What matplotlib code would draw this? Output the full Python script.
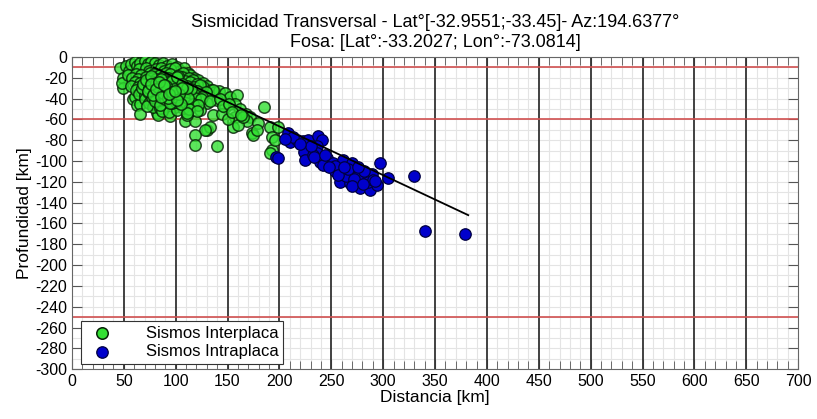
import numpy as np
import matplotlib.pyplot as plt
from matplotlib.ticker import MultipleLocator

plt.rcParams['font.family'] = ['Liberation Sans', 'DejaVu Sans']
plt.rcParams['axes.unicode_minus'] = False

# sismos interplaca (distancia km, profundidad km)
dist_inter = [
    46, 49, 49, 48, 52, 55, 57, 61, 63, 66, 70, 73, 76, 80, 84, 88, 92, 96, 101, 104,
    108, 112, 114, 118, 122, 126, 130, 126, 134, 138, 142, 148, 152, 159, 157, 162, 168, 172, 157, 155,
    169, 174, 175, 179, 185, 191, 193, 193, 191, 199, 196, 59, 61, 63, 66, 66, 82, 83, 95, 109,
    119, 130, 133, 128, 119, 119, 140, 140, 136, 130, 123, 111, 136, 148, 145, 150, 160, 165, 178, 54,
    65, 71, 74, 81, 86, 89, 95, 99,
    62, 67, 75, 79, 85, 91, 95, 103, 107,
    58, 64, 71, 77, 81, 88, 93, 100, 106, 113, 117,
    61, 66, 72, 79, 84, 89, 97, 102, 109, 114, 121,
    57, 64, 69, 74, 82, 87, 92, 99, 104, 111, 118, 123,
    62, 67, 75, 80, 85, 93, 98, 105, 109, 116, 121, 129,
    65, 70, 77, 84, 88, 95, 102, 106, 113, 118, 125,
    70, 76, 81, 88, 95, 99, 106, 111, 119, 124, 133,
    74, 79, 87, 92, 97, 104, 110, 117, 122,
    78, 85, 91, 99, 107, 113, 121,
    87, 94, 101, 111,
    68, 73, 78, 83, 90, 96, 102, 108, 72, 86, 93, 100, 115, 143, 146, 151, 154, 163,
    69, 74, 79, 84, 89, 94, 99, 104, 77, 82, 87, 92, 97, 102, 107, 112,
    71, 76, 81, 86, 91, 96, 101, 106, 111, 80, 85, 90, 95, 100, 105,
    73, 78, 83, 88, 93, 98, 103, 76, 81, 86, 91, 96, 101, 106, 84, 89, 94, 99,
]
prof_inter = [
    -11, -20, -30, -25, -9, -13, -7, -5, -9, -6, -4, -7, -5, -6, -8, -6, -9, -7, -10, -13,
    -11, -15, -17, -20, -22, -25, -28, -29, -32, -34, -33, -35, -38, -37, -45, -50, -55, -58, -58, -67,
    -62, -73, -75, -63, -48, -67, -77, -89, -92, -67, -80, -40, -38, -46, -45, -55, -54, -56, -57, -62,
    -62, -70, -67, -70, -75, -85, -86, -41, -56, -44, -51, -56, -32, -48, -55, -60, -65, -58, -70, -17,
    -12, -11, -13, -12, -11, -13, -12, -11,
    -16, -17, -15, -16, -17, -15, -16, -17, -15,
    -20, -21, -19, -20, -21, -19, -20, -21, -19, -20, -22,
    -24, -25, -23, -24, -25, -23, -24, -25, -23, -24, -26,
    -28, -29, -27, -28, -29, -27, -28, -29, -27, -28, -29, -27,
    -32, -33, -31, -32, -33, -31, -32, -33, -31, -32, -33, -34,
    -36, -37, -35, -36, -37, -35, -36, -37, -35, -36, -38,
    -40, -41, -39, -40, -41, -39, -40, -41, -39, -40, -42,
    -44, -45, -43, -44, -45, -43, -44, -45, -46,
    -48, -49, -47, -48, -49, -50, -52,
    -52, -53, -51, -54,
    -30, -34, -26, -38, -22, -44, -18, -29, -47, -35, -24, -43, -31, -40, -47, -45, -53, -56,
    -26, -30, -34, -27, -31, -35, -28, -32, -38, -34, -37, -30, -33, -36, -29, -39,
    -22, -18, -25, -21, -27, -23, -19, -26, -30, -42, -46, -40, -44, -38, -45,
    -33, -37, -29, -35, -39, -31, -36, -26, -31, -38, -28, -34, -41, -30, -24, -27, -36, -33,
]

# sismos intraplaca
dist_intra = [
    197, 208, 210, 199, 223, 228, 237, 241, 236, 224, 225, 236, 239, 246, 252, 254, 260, 261, 258, 268,
    270, 271, 278, 278, 284, 287, 289, 294, 297, 305, 280, 275, 242, 254, 285, 264, 272, 290, 266, 248,
    232, 217, 213, 230, 256, 282, 292, 276, 330, 340, 379, 205, 220, 233, 244, 262, 270, 281,
]
prof_intra = [
    -96, -73, -82, -97, -81, -80, -76, -80, -86, -91, -99, -92, -101, -97, -102, -110, -110, -99, -120, -121,
    -102, -111, -109, -126, -115, -128, -112, -123, -102, -116, -118, -115, -104, -105, -120, -114, -117, -118, -108, -106,
    -94, -80, -77, -86, -113, -110, -119, -106, -114, -167, -170, -79, -84, -96, -94, -106, -124, -122,
]

# linea de subduccion
linea_x = [79, 382]
linea_y = [-10, -152]

# profundidades de referencia
ref_prof = [-10, -60, -250]

fig, ax = plt.subplots(figsize=(8.17, 4.19), dpi=100)
fig.subplots_adjust(left=0.088, right=0.977, bottom=0.119, top=0.864)

ax.set_xlim(0, 700)
ax.set_ylim(-300, 0)
ax.xaxis.set_major_locator(MultipleLocator(50))
ax.xaxis.set_minor_locator(MultipleLocator(10))
ax.yaxis.set_major_locator(MultipleLocator(20))
ax.yaxis.set_minor_locator(MultipleLocator(10))

ax.grid(which='minor', color='#e4e4e4', linewidth=0.8, zorder=0)
ax.grid(axis='y', which='major', color='#e4e4e4', linewidth=0.8, zorder=0)
ax.set_axisbelow(True)
# lineas verticales principales cada 50 km
for xv in ax.get_xticks():
    if 0 < xv < 700:
        ax.axvline(xv, color='#333333', linewidth=1.3, zorder=1)

ax.tick_params(which='both', direction='in', top=True, right=True, labelsize=11.5, color='#555555')
ax.tick_params(which='major', length=7)
ax.tick_params(which='minor', length=6)
ax.tick_params(axis='y', which='minor', length=0)
for s in ax.spines.values():
    s.set_color('#666666')

for r in ref_prof:
    ax.axhline(r, color='#d05050', linewidth=1.2, zorder=1.5)

ax.plot(linea_x, linea_y, color='black', linewidth=1.3, zorder=4)

ax.scatter(dist_inter, prof_inter, s=68, facecolor='#33e033', edgecolor='#062006',
           linewidth=1.1, alpha=0.8, zorder=3, label='Sismos Interplaca')
ax.scatter(dist_intra, prof_intra, s=68, facecolor='#0000cc', edgecolor='#000040',
           linewidth=0.9, zorder=3, label='Sismos Intraplaca')

ax.set_xlabel('Distancia [km]', fontsize=12.5, labelpad=1)
ax.set_ylabel('Profundidad [km]', fontsize=12.5, labelpad=2)
ax.set_title('Sismicidad Transversal - Lat°[-32.9551;-33.45]- Az:194.6377°\nFosa: [Lat°:-33.2027; Lon°:-73.0814]',
             fontsize=13, linespacing=1.25, pad=7)

leg = ax.legend(loc='lower left', bbox_to_anchor=(0.005, 0.0), fontsize=12, fancybox=False,
                edgecolor='#333333', framealpha=1, borderpad=0.3, handletextpad=1.6,
                labelspacing=0.2, borderaxespad=0.3)
leg.get_frame().set_linewidth(0.8)
for h in leg.legend_handles:
    h.set_alpha(1)

plt.savefig('out.png', dpi=100)
